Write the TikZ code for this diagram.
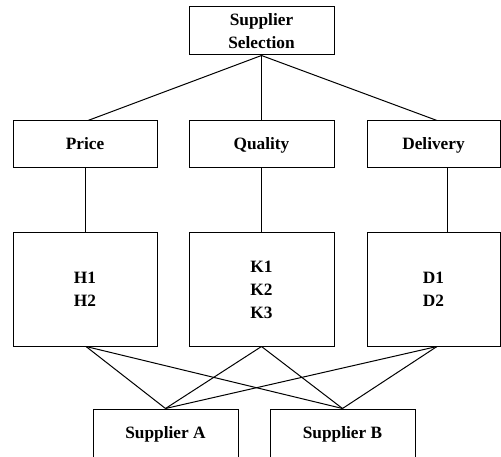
\documentclass[tikz,border=0pt]{standalone}
\usepackage{fontspec}
\setmainfont{Liberation Serif}
\begin{document}
\begin{tikzpicture}[x=1pt,y=-1pt,
  box/.style={draw=black,line width=1pt,inner sep=0pt,align=center,
    font=\fontsize{17.3}{23}\selectfont\bfseries},
  link/.style={draw=black,line width=1pt}]
\useasboundingbox (0,0) rectangle (501,457);
\clip (0,0) rectangle (501,457);
\fill[white] (0,0) rectangle (501,457);
\node[box,minimum width=145pt,minimum height=48pt] (top) at (261.5,31) {Supplier\\Selection};
\node[box,minimum width=144pt,minimum height=47pt] (price) at (85,144.5) {Price\strut};
\node[box,minimum width=145pt,minimum height=47pt] (qual) at (261.5,144.5) {Quality\strut};
\node[box,minimum width=133pt,minimum height=47pt] (del) at (433.5,144.5) {Delivery\strut};
\node[box,minimum width=144pt,minimum height=113pt] (hbox) at (85,289.5) {H1\\H2};
\node[box,minimum width=145pt,minimum height=113pt] (kbox) at (261.5,289.5) {K1\\K2\\K3};
\node[box,minimum width=133pt,minimum height=113pt] (dbox) at (433.5,289.5) {D1\\D2};
\node[box,minimum width=145pt,minimum height=50pt] (supa) at (165.5,434) {Supplier A\strut};
\node[box,minimum width=145pt,minimum height=50pt] (supb) at (342.5,434) {Supplier B\strut};
\draw[link] (top.south) -- ([xshift=3pt]price.north);
\draw[link] (top.south) -- (qual.north);
\draw[link] (top.south) -- ([xshift=3.5pt]del.north);
\draw[link] (price.south) -- (hbox.north);
\draw[link] (qual.south) -- (kbox.north);
\draw[link] ([xshift=13.5pt]del.south) -- ([xshift=13.5pt]dbox.north);
\draw[link] ([xshift=1pt]hbox.south) -- (supa.north);
\draw[link] ([xshift=1pt]hbox.south) -- (supb.north);
\draw[link] (kbox.south) -- (supa.north);
\draw[link] (kbox.south) -- (supb.north);
\draw[link] ([xshift=3.5pt]dbox.south) -- (supa.north);
\draw[link] ([xshift=3.5pt]dbox.south) -- (supb.north);
\end{tikzpicture}
\end{document}
